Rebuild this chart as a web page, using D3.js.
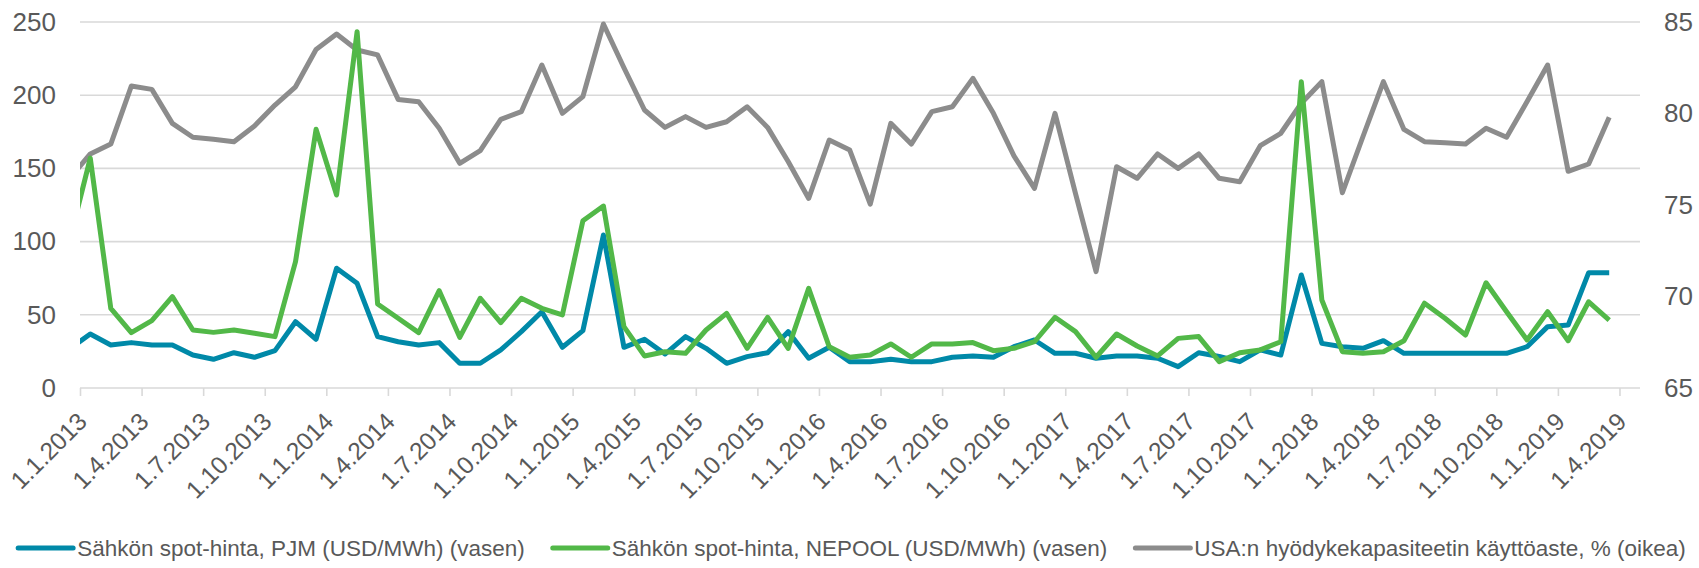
<!DOCTYPE html>
<html>
<head>
<meta charset="utf-8">
<script src="https://cdn.jsdelivr.net/npm/d3@7"></script>
<style>
  html, body { margin: 0; padding: 0; background: #fff; }
  svg { display: block; font-family: "Liberation Sans", Arial, sans-serif; }
</style>
</head>
<body>
<svg id="chart" width="1699" height="568"></svg>
<script>
// Monthly observations, Dec 2012 – Mar 2019 (first point sits just left of the axis start)
const startMonth = "2012-12";

// Electricity spot price, PJM (USD/MWh), left axis
const pjm = [
  26.8,
  36.9, 29.4, 31.0, 29.4, 29.4, 22.5, 19.6, 24.1, 21.0, 25.5, 45.3, 33.3,
  81.8, 71.5, 35.1, 31.6, 29.4, 31.0, 16.9, 16.9, 26.0, 38.5, 52.1, 27.8,
  39.2, 104.5, 27.8, 33.3, 23.2, 35.1, 27.1, 16.9, 21.4, 24.1, 38.5, 20.3,
  27.8, 18.0, 18.0, 19.6, 18.0, 18.0, 21.0, 21.9, 21.0, 28.2, 32.8, 23.7,
  23.7, 20.3, 21.9, 21.9, 20.3, 14.6, 24.1, 21.5, 18.0, 26.0, 22.5, 77.2,
  30.5, 28.2, 27.1, 32.3, 23.7, 23.7, 23.7, 23.7, 23.7, 23.7, 28.2, 41.9,
  43.0, 78.8, 78.8
];

// Electricity spot price, NEPOOL (USD/MWh), left axis
const nepool = [
  101.0,
  157.0, 54.4, 37.8, 46.0, 62.4, 39.6, 38.0, 39.6, 37.4, 35.1, 86.3, 176.7,
  131.8, 243.4, 57.4, 47.6, 37.8, 66.5, 34.6, 61.3, 44.6, 61.3, 54.4, 49.9,
  114.3, 124.3, 41.9, 21.9, 24.8, 23.7, 39.6, 51.0, 27.1, 48.3, 27.1, 68.1,
  28.2, 21.0, 22.5, 30.1, 21.0, 30.1, 30.1, 31.0, 25.5, 27.1, 31.6, 48.3,
  38.5, 21.0, 36.9, 28.7, 21.9, 33.9, 35.1, 18.0, 24.1, 26.0, 31.6, 209.2,
  60.1, 24.8, 23.7, 24.8, 32.3, 57.9, 47.6, 36.2, 71.9, 52.1, 32.8, 52.1,
  32.3, 58.9, 46.4
];

// US utilities capacity utilisation, %, right axis
const capacity = [
  76.46,
  77.79, 78.33, 81.50, 81.32, 79.46, 78.70, 78.59, 78.46, 79.32, 80.46, 81.46, 83.50,
  84.34, 83.47, 83.20, 80.77, 80.64, 79.19, 77.28, 77.97, 79.68, 80.10, 82.65, 80.01,
  80.92, 84.89, 82.50, 80.19, 79.24, 79.83, 79.24, 79.55, 80.37, 79.24, 77.38, 75.36,
  78.55, 78.00, 75.05, 79.46, 78.33, 80.10, 80.37, 81.92, 80.01, 77.68, 75.91, 80.01,
  75.62, 71.36, 77.09, 76.46, 77.79, 77.00, 77.79, 76.46, 76.27, 78.24, 78.92, 80.56,
  81.74, 75.67, 78.73, 81.74, 79.13, 78.46, 78.40, 78.33, 79.19, 78.70, 80.65, 82.65,
  76.84, 77.24, 79.79
];

const tickLabels = [
  "1.1.2013", "1.4.2013", "1.7.2013", "1.10.2013",
  "1.1.2014", "1.4.2014", "1.7.2014", "1.10.2014",
  "1.1.2015", "1.4.2015", "1.7.2015", "1.10.2015",
  "1.1.2016", "1.4.2016", "1.7.2016", "1.10.2016",
  "1.1.2017", "1.4.2017", "1.7.2017", "1.10.2017",
  "1.1.2018", "1.4.2018", "1.7.2018", "1.10.2018",
  "1.1.2019", "1.4.2019"
];

const leftTicks = [0, 50, 100, 150, 200, 250];
const rightTicks = [65, 70, 75, 80, 85];

const seriesNames = [
  "Sähkön spot-hinta, PJM (USD/MWh) (vasen)",
  "Sähkön spot-hinta, NEPOOL (USD/MWh) (vasen)",
  "USA:n hyödykekapasiteetin käyttöaste, % (oikea)"
];
const colors = { pjm: "#0089a8", nepool: "#52b848", capacity: "#8c8c8c" };

// ---- layout ----
const svg = d3.select("#chart");
const plot = { left: 80, right: 1640, top: 22, bottom: 388 };
const textColor = "#595959";
const gridColor = "#d9d9d9";

// months counted from 1.1.2013; the axis runs to 1.5.2019
const monthStart = d3.timeParse("%Y-%m")(startMonth);
const monthsFromAxisStart = pjm.map((_, i) => {
  const d = d3.timeMonth.offset(monthStart, i);
  return (d.getFullYear() - 2013) * 12 + d.getMonth();
});

const x = d3.scaleLinear().domain([0, 76]).range([plot.left, plot.right]);
const yL = d3.scaleLinear().domain([0, 250]).range([plot.bottom, plot.top]);
const yR = d3.scaleLinear().domain([65, 85]).range([plot.bottom, plot.top]);

// points sit in the middle of each month
const xPoint = i => x(monthsFromAxisStart[i] + 0.5);

// gridlines
svg.append("g")
  .selectAll("line")
  .data(leftTicks)
  .join("line")
  .attr("x1", plot.left).attr("x2", plot.right)
  .attr("y1", d => yL(d)).attr("y2", d => yL(d))
  .attr("stroke", gridColor).attr("stroke-width", 1.6);

// left axis labels
const leftAxis = d3.axisLeft(yL).tickValues(leftTicks).tickSize(0).tickPadding(24);
svg.append("g")
  .attr("transform", `translate(${plot.left},0)`)
  .call(leftAxis)
  .call(g => g.select(".domain").remove())
  .selectAll("text")
  .attr("fill", textColor)
  .style("font-size", "26px");

// right axis labels
const rightAxis = d3.axisRight(yR).tickValues(rightTicks).tickSize(0).tickPadding(24);
svg.append("g")
  .attr("transform", `translate(${plot.right},0)`)
  .call(rightAxis)
  .call(g => g.select(".domain").remove())
  .selectAll("text")
  .attr("fill", textColor)
  .style("font-size", "26px");

// bottom axis: quarterly ticks with rotated labels
const tickMonths = tickLabels.map((_, i) => i * 3);
const bottomAxis = d3.axisBottom(x)
  .tickValues(tickMonths)
  .tickSize(8)
  .tickFormat((d, i) => tickLabels[i]);
const gx = svg.append("g")
  .attr("transform", `translate(0,${plot.bottom})`)
  .call(bottomAxis);
gx.select(".domain").remove();
gx.selectAll(".tick line").attr("stroke", gridColor).attr("stroke-width", 1.6);
gx.selectAll(".tick text")
  .attr("fill", textColor)
  .style("font-size", "24.5px")
  .attr("text-anchor", "end")
  .attr("dy", null)
  .attr("y", null)
  .attr("transform", "translate(8,35) rotate(-45)");

// lines
svg.append("clipPath").attr("id", "plot-clip")
  .append("rect")
  .attr("x", plot.left).attr("y", 0)
  .attr("width", plot.right - plot.left).attr("height", 568);

const linesG = svg.append("g").attr("clip-path", "url(#plot-clip)");

const lineL = d3.line().x((d, i) => xPoint(i)).y(d => yL(d));
const lineR = d3.line().x((d, i) => xPoint(i)).y(d => yR(d));

[
  { values: capacity, gen: lineR, color: colors.capacity },
  { values: pjm, gen: lineL, color: colors.pjm },
  { values: nepool, gen: lineL, color: colors.nepool }
].forEach(s => {
  linesG.append("path")
    .datum(s.values)
    .attr("d", s.gen)
    .attr("fill", "none")
    .attr("stroke", s.color)
    .attr("stroke-width", 5)
    .attr("stroke-linejoin", "round");
});

// legend
const legendItems = [
  { name: seriesNames[0], color: colors.pjm },
  { name: seriesNames[1], color: colors.nepool },
  { name: seriesNames[2], color: colors.capacity }
];
const legendY = 548;
const sampleLen = 55, sampleGap = 4, itemGap = 28;
const legend = svg.append("g");
const items = legend.selectAll("g")
  .data(legendItems)
  .join("g");
items.append("line")
  .attr("x1", 0).attr("x2", sampleLen)
  .attr("y1", 0).attr("y2", 0)
  .attr("stroke", d => d.color)
  .attr("stroke-width", 5)
  .attr("stroke-linecap", "round");
items.append("text")
  .attr("x", sampleLen + sampleGap)
  .attr("y", 0)
  .attr("dy", "0.35em")
  .attr("fill", textColor)
  .style("font-size", "22.5px")
  .text(d => d.name);

const widths = [];
items.each(function () {
  const w = this.querySelector("text").getComputedTextLength();
  widths.push(sampleLen + sampleGap + w);
});
const total = d3.sum(widths) + itemGap * (widths.length - 1);
let cursor = 852 - total / 2;
items.attr("transform", (d, i) => {
  const tx = cursor;
  cursor += widths[i] + itemGap;
  return `translate(${tx},${legendY})`;
});
</script>
</body>
</html>
